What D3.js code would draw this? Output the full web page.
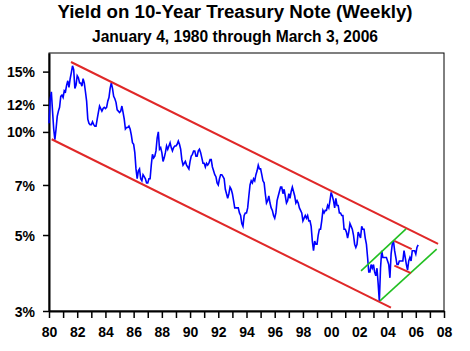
<!DOCTYPE html>
<html>
<head>
<meta charset="utf-8">
<script src="https://cdn.jsdelivr.net/npm/d3@7"></script>
<style>
  body { margin: 0; background: #fff; }
  text { font-family: "Liberation Sans", Arial, sans-serif; font-weight: bold; fill: #000; }
</style>
</head>
<body>
<div id="chart"></div>
<script>
{
  const TITLE = "Yield on 10-Year Treasury Note (Weekly)";
  const SUBTITLE = "January 4, 1980 through March 3, 2006";

  // monthly readings of the 10-year yield, Jan 1980 .. Mar 2006 (percent)
  const START_YEAR = 1980;
  const yields = [
    10.60, 12.40, 13.10, 11.50, 10.20, 9.50, 10.20, 11.10, 11.50, 11.80, 12.70, 12.80,
    12.60, 13.20, 13.10, 13.70, 14.10, 13.50, 14.30, 14.90, 15.60, 15.20, 13.40, 13.70,
    14.60, 14.40, 13.90, 13.90, 13.60, 14.30, 13.90, 13.10, 12.30, 10.90, 10.60, 10.50,
    10.50, 10.70, 10.50, 10.40, 10.40, 10.90, 11.40, 11.90, 11.70, 11.50, 11.70, 11.80,
    11.70, 11.80, 12.30, 12.60, 13.40, 13.90, 13.40, 12.70, 12.50, 12.20, 11.60, 11.50,
    11.40, 11.50, 11.90, 11.40, 10.90, 10.20, 10.30, 10.30, 10.40, 10.20, 9.80, 9.30,
    9.20, 8.70, 7.80, 7.30, 7.70, 7.80, 7.30, 7.20, 7.50, 7.40, 7.30, 7.10,
    7.10, 7.30, 7.30, 8.00, 8.60, 8.40, 8.50, 8.80, 9.60, 10.00, 8.90, 9.00,
    8.70, 8.20, 8.40, 8.70, 9.10, 8.90, 9.10, 9.30, 9.00, 8.80, 9.00, 9.10,
    9.10, 9.20, 9.40, 9.20, 8.90, 8.30, 8.00, 8.10, 8.20, 8.00, 7.90, 7.80,
    8.20, 8.50, 8.60, 8.80, 8.80, 8.50, 8.50, 8.80, 8.90, 8.70, 8.40, 8.10,
    8.10, 7.90, 8.10, 8.00, 8.10, 8.30, 8.30, 7.90, 7.70, 7.50, 7.40, 7.10,
    7.00, 7.30, 7.50, 7.50, 7.40, 7.30, 6.80, 6.60, 6.40, 6.60, 6.90, 6.80,
    6.60, 6.30, 6.00, 6.00, 6.00, 6.00, 5.80, 5.70, 5.40, 5.30, 5.70, 5.80,
    5.80, 6.00, 6.50, 7.00, 7.20, 7.10, 7.30, 7.20, 7.50, 7.70, 8.00, 7.80,
    7.80, 7.50, 7.20, 7.10, 6.60, 6.20, 6.30, 6.50, 6.20, 6.00, 5.90, 5.70,
    5.60, 5.80, 6.30, 6.50, 6.70, 6.90, 6.90, 6.60, 6.80, 6.50, 6.20, 6.30,
    6.60, 6.40, 6.70, 6.90, 6.70, 6.50, 6.20, 6.30, 6.20, 6.00, 5.90, 5.80,
    5.50, 5.60, 5.70, 5.60, 5.70, 5.50, 5.50, 5.30, 4.80, 4.50, 4.80, 4.70,
    4.70, 5.00, 5.20, 5.20, 5.50, 5.90, 5.80, 5.90, 5.90, 6.10, 6.00, 6.30,
    6.66, 6.50, 6.30, 6.00, 6.40, 6.10, 6.10, 5.80, 5.80, 5.70, 5.70, 5.20,
    5.20, 5.10, 4.90, 5.10, 5.40, 5.30, 5.20, 5.00, 4.70, 4.60, 4.70, 5.10,
    5.00, 4.90, 5.30, 5.20, 5.20, 4.90, 4.70, 4.30, 3.90, 3.90, 4.10, 4.00,
    4.10, 3.90, 3.80, 4.00, 3.60, 3.20, 4.00, 4.50, 4.30, 4.30, 4.30, 4.30,
    4.20, 4.10, 3.75, 4.40, 4.70, 4.80, 4.50, 4.30, 4.10, 4.10, 4.20, 4.20,
    4.20, 4.20, 4.50, 4.30, 4.10, 3.95, 4.20, 4.30, 4.20, 4.50, 4.50, 4.50,
    4.40, 4.60, 4.68
  ];

  // trend channels drawn on the chart: [[year, yield], [year, yield]]
  const redChannel = [
    [[1981.56, 16.0], [2007.58, 4.71]],
    [[1980.19, 9.52], [2004.24, 3.07]]
  ];
  const greenChannel = [
    [[2002.12, 3.93], [2005.31, 5.21]],
    [[2003.46, 3.21], [2007.48, 4.55]]
  ];
  const redShort = [
    [[2004.48, 4.81], [2005.71, 4.55]],
    [[2004.48, 4.07], [2005.66, 3.87]]
  ];

  const xTicks = d3.range(1980, 2009, 1);
  const yTicks = [3, 5, 7, 10, 12, 15];

  const width = 470;
  const height = 351;
  const left = 49, right = 444, top = 53, bottom = 311;

  const svg = d3.select("#chart")
    .append("svg")
    .attr("width", width)
    .attr("height", height);

  const x = d3.scaleLinear().domain([1980, 2008]).range([left, right]);
  const y = d3.scaleLog().domain([3, 17]).range([bottom, top]);

  svg.append("text")
    .attr("x", 235)
    .attr("y", 18)
    .attr("text-anchor", "middle")
    .style("font-size", "18.7px")
    .text(TITLE);

  svg.append("text")
    .attr("x", 235)
    .attr("y", 41.5)
    .attr("text-anchor", "middle")
    .style("font-size", "15.6px")
    .text(SUBTITLE);

  svg.append("rect")
    .attr("x", left)
    .attr("y", top)
    .attr("width", right - left)
    .attr("height", bottom - top)
    .attr("fill", "none")
    .attr("stroke", "#000")
    .attr("stroke-width", 1);

  const xAxis = svg.append("g")
    .attr("transform", `translate(0,${bottom})`)
    .call(d3.axisBottom(x)
      .tickValues(xTicks)
      .tickSize(7)
      .tickSizeOuter(0)
      .tickFormat(d => d % 2 === 0 ? String(d).slice(2) : ""));

  xAxis.select(".domain").attr("stroke", "#000").attr("stroke-width", 2);
  xAxis.selectAll(".tick line").attr("stroke", "#000").attr("stroke-width", 1.5);
  xAxis.selectAll(".tick text")
    .attr("y", 25.5)
    .attr("dy", 0)
    .style("font-size", "14px")
    .style("font-family", "'Liberation Sans', Arial, sans-serif")
    .style("font-weight", "bold")
    .attr("fill", "#000");

  const yAxis = svg.append("g")
    .attr("transform", `translate(${left},0)`)
    .call(d3.axisLeft(y)
      .tickValues(yTicks)
      .tickSize(6)
      .tickSizeOuter(0)
      .tickPadding(8)
      .tickFormat(d => d + "%"));

  yAxis.select(".domain").attr("stroke", "#000").attr("stroke-width", 2);
  yAxis.selectAll(".tick line").attr("stroke", "#000").attr("stroke-width", 1.5);
  yAxis.selectAll(".tick text")
    .attr("dy", "0.36em")
    .style("font-size", "14px")
    .style("font-family", "'Liberation Sans', Arial, sans-serif")
    .style("font-weight", "bold")
    .attr("fill", "#000");

  const series = yields.map((v, i) => ({ t: START_YEAR + i / 12, v: v }));

  const line = d3.line()
    .x(d => x(d.t))
    .y(d => y(d.v));

  svg.append("path")
    .datum(series)
    .attr("d", line)
    .attr("fill", "none")
    .attr("stroke", "#0000ff")
    .attr("stroke-width", 1.6)
    .attr("stroke-linejoin", "miter");

  const segLine = d3.line()
    .x(d => x(d[0]))
    .y(d => y(d[1]));

  function drawSegments(data, color, w) {
    svg.append("g")
      .selectAll("path")
      .data(data)
      .enter()
      .append("path")
      .attr("d", segLine)
      .attr("fill", "none")
      .attr("stroke", color)
      .attr("stroke-width", w);
  }

  drawSegments(redChannel, "#e02828", 2);
  drawSegments(greenChannel, "#22c022", 1.6);
  drawSegments(redShort, "#e02828", 2);
}
</script>
</body>
</html>
